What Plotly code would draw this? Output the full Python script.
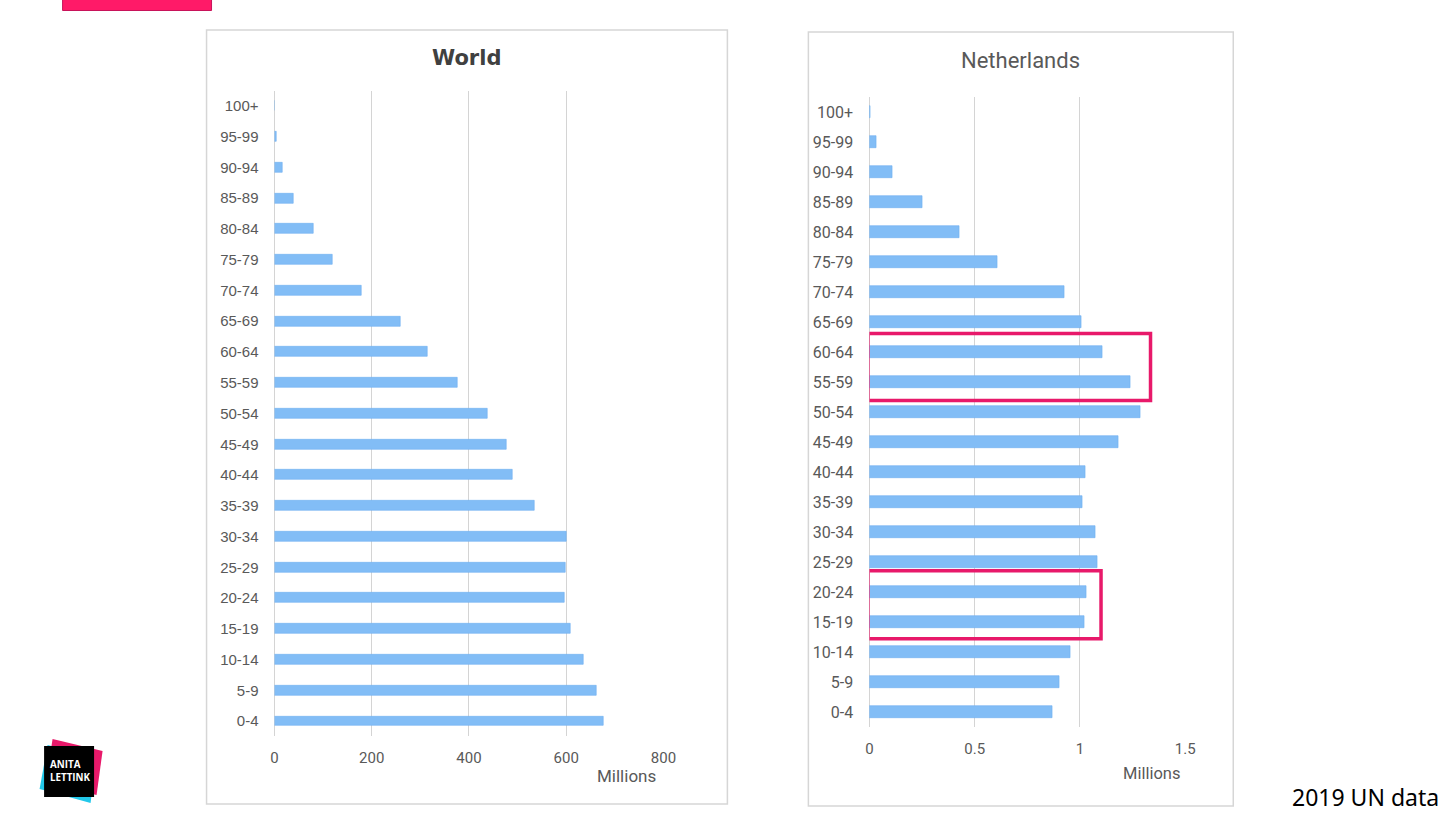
import plotly.graph_objects as go

W, H = 1456, 819

# age groups, bottom to top
ages = ["0-4", "5-9", "10-14", "15-19", "20-24", "25-29", "30-34", "35-39",
        "40-44", "45-49", "50-54", "55-59", "60-64", "65-69", "70-74",
        "75-79", "80-84", "85-89", "90-94", "95-99", "100+"]

# population in millions (2019)
world = [677, 662, 635, 609, 596, 599, 600, 534, 489, 477, 438, 377, 315,
         259, 179, 119, 80, 40, 16, 5, 0.6]
netherlands = [0.868, 0.901, 0.955, 1.022, 1.031, 1.081, 1.071, 1.009,
               1.024, 1.183, 1.288, 1.239, 1.107, 1.006, 0.924, 0.607,
               0.427, 0.254, 0.107, 0.033, 0.003]

world_ticks = [0, 200, 400, 600, 800]
nl_ticks = [0, 0.5, 1, 1.5]
nl_tick_text = ["0", "0.5", "1", "1.5"]

BAR = "#82bdf6"
BAR_EDGE = "#6eaff0"
GRID = "#d4d4d4"
TXT = "#595959"
MAGENTA = "#e8196a"

# the photographed page comes out slightly squeezed in x, so undo that here
SX, OX = 0.9886, 3.4


def px(x):
    return (x - OX) / SX / W


def py(y):
    return 1 - y / H


fig = go.Figure()
fig.add_trace(go.Bar(x=world, y=ages, orientation="h", width=0.32,
                     marker=dict(color=BAR, line=dict(color=BAR_EDGE, width=0.6)),
                     xaxis="x", yaxis="y", showlegend=False))
fig.add_trace(go.Bar(x=netherlands, y=ages, orientation="h", width=0.38,
                     marker=dict(color=BAR, line=dict(color=BAR_EDGE, width=0.6)),
                     xaxis="x2", yaxis="y2", showlegend=False))

common_x = dict(showgrid=True, gridcolor=GRID, gridwidth=1.3, zeroline=True,
                zerolinecolor=GRID, zerolinewidth=1.3, showline=False,
                ticks="outside", ticklen=8, tickcolor="rgba(0,0,0,0)")
common_y = dict(type="category", categoryorder="array", categoryarray=ages,
                range=[-0.5, 20.5], showgrid=False, zeroline=False,
                ticks="outside", ticklen=12, tickcolor="rgba(0,0,0,0)")

fig.update_layout(
    width=W, height=H, margin=dict(l=0, r=0, t=0, b=0),
    paper_bgcolor="white", plot_bgcolor="white", bargap=0,
    xaxis=dict(common_x, domain=[px(274), px(663)], range=[0, 800],
               tickvals=world_ticks, anchor="y",
               tickfont=dict(family="Roboto", size=15, color=TXT)),
    yaxis=dict(common_y, domain=[py(736.4), py(90.6)], anchor="x",
               tickfont=dict(family="Liberation Sans", size=15, color=TXT)),
    xaxis2=dict(common_x, domain=[px(869), px(1185)], range=[0, 1.5],
                tickvals=nl_ticks, ticktext=nl_tick_text, anchor="y2",
                tickfont=dict(family="Roboto", size=15, color=TXT)),
    yaxis2=dict(common_y, domain=[py(727), py(97)], anchor="x2",
                tickfont=dict(family="Roboto", size=16, color=TXT)),
)

shapes = [
    # panel frames
    dict(type="rect", xref="paper", yref="paper", x0=px(206), x1=px(727),
         y0=py(804), y1=py(30), line=dict(color="#d6d6d6", width=1.5), layer="below"),
    dict(type="rect", xref="paper", yref="paper", x0=px(808), x1=px(1233),
         y0=py(806), y1=py(32), line=dict(color="#d6d6d6", width=1.5), layer="below"),
    # highlight boxes on the Netherlands chart
    dict(type="rect", xref="x2", yref="y2", x0=-0.006, x1=1.335, y0=10.38, y1=12.62,
         line=dict(color=MAGENTA, width=3.5)),
    dict(type="rect", xref="x2", yref="y2", x0=-0.006, x1=1.10, y0=2.44, y1=4.71,
         line=dict(color=MAGENTA, width=3.5)),
    # pink bar at top left
    dict(type="rect", xref="paper", yref="paper", x0=px(62), x1=px(211),
         y0=py(10.5), y1=py(-2), fillcolor="#ff1a68", line=dict(color="#c8135a", width=1)),
]


def quad(pts):
    return "M " + " L ".join(f"{px(a)},{py(b)}" for a, b in pts) + " Z"


# logo
shapes += [
    dict(type="path", xref="paper", yref="paper",
         path=quad([(47, 745), (96, 757), (90, 803), (39, 789)]),
         fillcolor="#22c8ea", line=dict(width=0)),
    dict(type="path", xref="paper", yref="paper",
         path=quad([(52, 739), (102, 751), (96, 795), (45, 783)]),
         fillcolor="#e8196a", line=dict(width=0)),
    dict(type="rect", xref="paper", yref="paper", x0=px(43.5), x1=px(93.5),
         y0=py(797), y1=py(746), fillcolor="black", line=dict(width=0)),
]
fig.update_layout(shapes=shapes)

annotations = [
    dict(text="<b>World</b>", x=px(466), y=py(58), font=dict(family="DejaVu Sans", size=21, color="#404040")),
    dict(text="Netherlands", x=px(1020), y=py(61), font=dict(family="Roboto", size=22, color=TXT)),
    dict(text="Millions", x=px(626), y=py(776), font=dict(family="Roboto", size=17, color=TXT)),
    dict(text="Millions", x=px(1152), y=py(773), font=dict(family="Roboto", size=16.5, color=TXT)),
    dict(text="2019 UN data", x=px(1365), y=py(797), font=dict(family="Noto Sans", size=23, color="black")),
    dict(text="<b>ANITA<br>LETTINK</b>", x=px(47), y=py(771), xanchor="left", align="left",
         font=dict(family="Open Sans", size=9.8, color="white")),
]
for a in annotations:
    a.setdefault("xanchor", "center")
    fig.add_annotation(xref="paper", yref="paper", yanchor="middle", showarrow=False, **a)

# no page margin / scrollbars, so the figure sits exactly in the 1456x819 window
page_fix = ("document.documentElement.style.overflow='hidden';"
            "document.body.style.margin='0px';"
            "document.body.style.overflow='hidden';")
fig.write_html("out.html", config={"displayModeBar": False}, post_script=page_fix)
